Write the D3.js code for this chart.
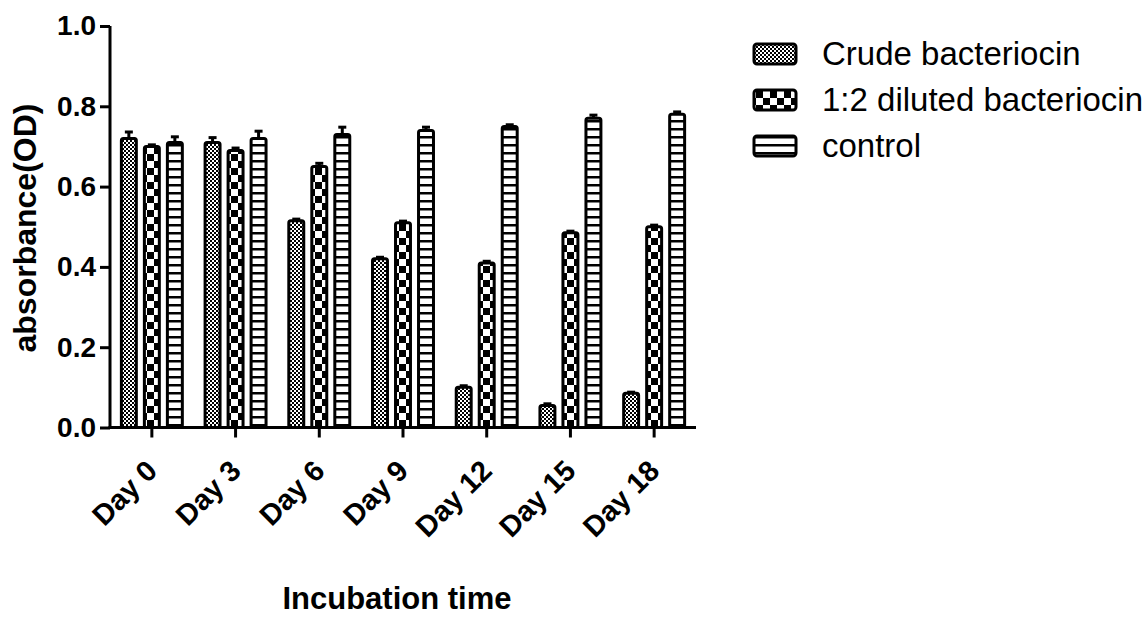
<!DOCTYPE html>
<html>
<head>
<meta charset="utf-8">
<script src="https://cdn.jsdelivr.net/npm/d3@7"></script>
<style>
  html, body { margin: 0; padding: 0; background: #fff; }
  svg { display: block; font-family: "Liberation Sans", Arial, sans-serif; }
</style>
</head>
<body>
<svg id="chart" width="1146" height="618"></svg>
<script>
// ---- data ----
const categories = ["Day 0", "Day 3", "Day 6", "Day 9", "Day 12", "Day 15", "Day 18"];
const seriesNames = ["Crude bacteriocin", "1:2 diluted bacteriocin", "control"];
const crudeValues   = [0.72, 0.71, 0.515, 0.42, 0.10, 0.055, 0.085];
const dilutedValues = [0.70, 0.69, 0.65, 0.51, 0.41, 0.485, 0.50];
const controlValues = [0.71, 0.72, 0.73, 0.74, 0.75, 0.77, 0.78];
const crudeErrors   = [0.016, 0.012, 0.004, 0.004, 0.004, 0.004, 0.003];
const dilutedErrors = [0.004, 0.006, 0.008, 0.004, 0.004, 0.004, 0.004];
const controlErrors = [0.014, 0.018, 0.018, 0.008, 0.004, 0.008, 0.006];
const yTicks = [0, 0.2, 0.4, 0.6, 0.8, 1.0];

const seriesValues = [crudeValues, dilutedValues, controlValues];
const seriesErrors = [crudeErrors, dilutedErrors, controlErrors];
const patternIds = ["pat-crude", "pat-diluted", "pat-control"];

const svg = d3.select("#chart");

// ---- patterns ----
const defs = svg.append("defs");
const p1 = defs.append("pattern").attr("id", "pat-crude").attr("patternUnits", "userSpaceOnUse")
  .attr("width", 4).attr("height", 4);
p1.append("rect").attr("width", 4).attr("height", 4).attr("fill", "#fff");
p1.append("rect").attr("x", 2).attr("y", 0).attr("width", 2).attr("height", 2).attr("fill", "#000");
p1.append("rect").attr("x", 0).attr("y", 2).attr("width", 2).attr("height", 2).attr("fill", "#000");

const p2 = defs.append("pattern").attr("id", "pat-diluted").attr("patternUnits", "userSpaceOnUse")
  .attr("width", 14).attr("height", 14);
p2.append("rect").attr("width", 14).attr("height", 14).attr("fill", "#fff");
p2.append("rect").attr("x", 7).attr("y", 0).attr("width", 7).attr("height", 7).attr("fill", "#000");
p2.append("rect").attr("x", 0).attr("y", 7).attr("width", 7).attr("height", 7).attr("fill", "#000");

const p3 = defs.append("pattern").attr("id", "pat-control").attr("patternUnits", "userSpaceOnUse")
  .attr("width", 8).attr("height", 8);
p3.append("rect").attr("width", 8).attr("height", 8).attr("fill", "#fff");
p3.append("rect").attr("x", 0).attr("y", 0).attr("width", 8).attr("height", 2.5).attr("fill", "#000");

// ---- scales ----
const xLeft = 110, xRight = 696, yBottom = 427.5, yTop = 26;
const x0 = d3.scaleBand().domain(categories).range([xLeft, xRight]).padding(0);
const x1 = d3.scaleBand().domain(seriesNames).range([7.35, x0.bandwidth() - 7.35]).paddingInner(0.35).paddingOuter(0.175);
const y = d3.scaleLinear().domain([0, 1]).range([yBottom, yTop]);

// ---- bars ----
const barData = [];
categories.forEach((c, i) => {
  seriesNames.forEach((s, j) => {
    barData.push({ cat: c, ser: s, j: j, v: seriesValues[j][i], e: seriesErrors[j][i] });
  });
});

const bars = svg.append("g");
bars.selectAll("rect").data(barData).enter().append("rect")
  .attr("x", d => x0(d.cat) + x1(d.ser))
  .attr("y", d => y(d.v))
  .attr("width", x1.bandwidth())
  .attr("height", d => y(0) - y(d.v))
  .attr("rx", 2)
  .attr("fill", d => "url(#" + patternIds[d.j] + ")")
  .attr("stroke", "#000")
  .attr("stroke-width", 3);

// ---- error bars ----
const err = svg.append("g").attr("stroke", "#000").attr("stroke-width", 3);
barData.forEach(d => {
  const cx = x0(d.cat) + x1(d.ser) + x1.bandwidth() / 2;
  err.append("line").attr("x1", cx).attr("x2", cx).attr("y1", y(d.v)).attr("y2", y(d.v + d.e));
  err.append("line").attr("x1", cx - 4).attr("x2", cx + 4).attr("y1", y(d.v + d.e)).attr("y2", y(d.v + d.e));
});

// ---- axes ----
const yAxis = svg.append("g").attr("transform", `translate(${xLeft},0)`)
  .call(d3.axisLeft(y).tickValues(yTicks).tickFormat(d3.format(".1f")).tickSize(10).tickPadding(4).tickSizeOuter(0));
yAxis.select(".domain").attr("stroke-width", 3).attr("d", `M0,${yTop}V${yBottom + 1.5}`);
yAxis.selectAll(".tick line").attr("stroke-width", 3);
yAxis.selectAll(".tick text").attr("font-size", 28).attr("font-weight", "bold")
  .attr("font-family", "Liberation Sans, Arial, sans-serif").attr("fill", "#000");

const xAxis = svg.append("g").attr("transform", `translate(0,${yBottom})`)
  .call(d3.axisBottom(x0).tickSize(10).tickSizeOuter(0));
xAxis.select(".domain").attr("stroke-width", 3).attr("d", `M${xLeft - 1.5},0H${xRight}`);
xAxis.selectAll(".tick line").attr("stroke-width", 3);
xAxis.selectAll(".tick text")
  .attr("font-size", 29).attr("font-weight", "bold")
  .attr("font-family", "Liberation Sans, Arial, sans-serif").attr("fill", "#000")
  .attr("x", 0).attr("y", 0).attr("dy", 0)
  .attr("text-anchor", "end")
  .attr("transform", "translate(7,45) rotate(-45)");

// ---- axis titles ----
svg.append("text")
  .attr("transform", "translate(36,228) rotate(-90)")
  .attr("text-anchor", "middle")
  .attr("font-size", 32).attr("font-weight", "bold")
  .text("absorbance(OD)");

svg.append("text")
  .attr("x", 397).attr("y", 609)
  .attr("text-anchor", "middle")
  .attr("font-size", 31).attr("font-weight", "bold")
  .text("Incubation time");

// ---- legend ----
const legendY = [54, 100, 146];
const legend = svg.append("g");
seriesNames.forEach((s, j) => {
  legend.append("rect")
    .attr("x", 754).attr("y", legendY[j] - 10)
    .attr("width", 42).attr("height", 20).attr("rx", 3)
    .attr("fill", "url(#" + patternIds[j] + ")")
    .attr("stroke", "#000").attr("stroke-width", 3);
  legend.append("text")
    .attr("x", 822).attr("y", legendY[j] + 11)
    .attr("font-size", 33)
    .attr("fill", "#000")
    .text(s);
});
</script>
</body>
</html>
